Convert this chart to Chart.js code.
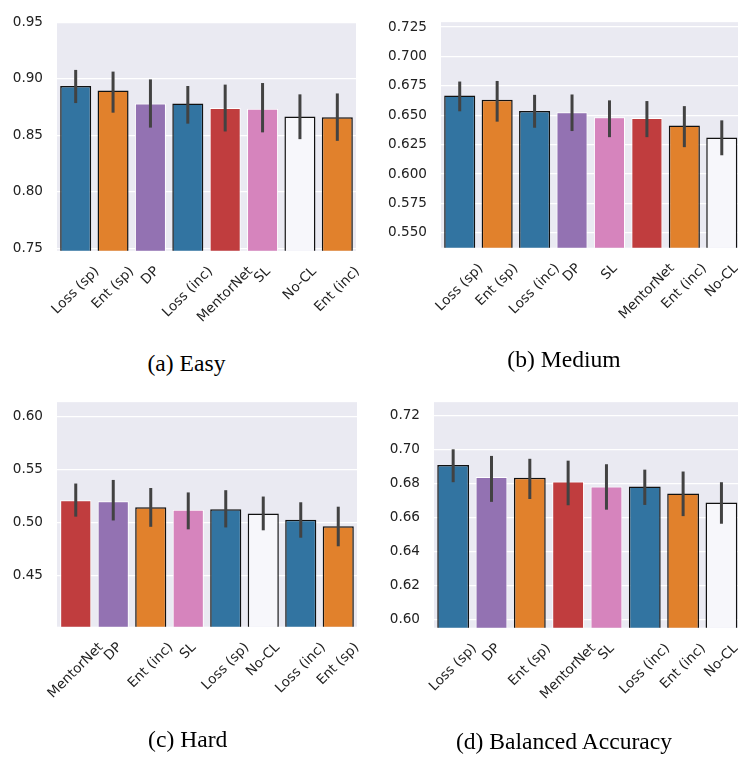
<!DOCTYPE html>
<html>
<head>
<meta charset="utf-8">
<script src="https://cdn.jsdelivr.net/npm/chart.js@4.4.0/dist/chart.umd.min.js"></script>
<style>
  html, body { margin: 0; padding: 0; background: #fff; overflow: hidden; }
  body { width: 738px; height: 757px; position: relative; }
  .panel { position: absolute; }
  .caption {
    position: absolute; width: 370px; text-align: center;
    font-family: "Liberation Serif", "Times New Roman", serif;
    font-size: 23.6px; line-height: 30px; color: #000; white-space: nowrap;
  }
</style>
</head>
<body>
<div class="panel" id="pa" style="left:0px;top:0px;width:370px;height:345px"><canvas id="cA"></canvas></div>
<div class="panel" id="pb" style="left:370px;top:0px;width:372px;height:345px"><canvas id="cB"></canvas></div>
<div class="panel" id="pc" style="left:0px;top:380px;width:370px;height:345px"><canvas id="cC"></canvas></div>
<div class="panel" id="pd" style="left:370px;top:380px;width:372px;height:345px"><canvas id="cD"></canvas></div>

<div class="caption" style="left:1.5px;top:348px">(a) Easy</div>
<div class="caption" style="left:379px;top:344px">(b) Medium</div>
<div class="caption" style="left:2.7px;top:724px">(c) Hard</div>
<div class="caption" style="left:379px;top:726px">(d) Balanced Accuracy</div>

<script>
// ---- data ----
const easyLabels = ['Loss (sp)', 'Ent (sp)', 'DP', 'Loss (inc)', 'MentorNet', 'SL', 'No-CL', 'Ent (inc)'];
const easyMean = [0.8936, 0.8897, 0.8781, 0.8780, 0.8741, 0.8735, 0.8667, 0.8660];
const easyLow  = [0.8785, 0.8700, 0.8568, 0.8603, 0.8534, 0.8526, 0.8466, 0.8451];
const easyHigh = [0.9078, 0.9063, 0.8994, 0.8936, 0.8948, 0.8962, 0.8862, 0.8870];
const easyTicks = [0.75, 0.80, 0.85, 0.90, 0.95];

const mediumLabels = ['Loss (sp)', 'Ent (sp)', 'Loss (inc)', 'DP', 'SL', 'MentorNet', 'Ent (inc)', 'No-CL'];
const mediumMean = [0.6667, 0.6632, 0.6536, 0.6525, 0.6483, 0.6475, 0.6412, 0.6310];
const mediumLow  = [0.6533, 0.6445, 0.6393, 0.6365, 0.6313, 0.6313, 0.6228, 0.6159];
const mediumHigh = [0.6786, 0.6791, 0.6673, 0.6676, 0.6626, 0.6620, 0.6577, 0.6456];
const mediumTicks = [0.550, 0.575, 0.600, 0.625, 0.650, 0.675, 0.700, 0.725];

const hardLabels = ['MentorNet', 'DP', 'Ent (inc)', 'SL', 'Loss (sp)', 'No-CL', 'Loss (inc)', 'Ent (sp)'];
const hardMean = [0.5211, 0.5202, 0.5145, 0.5123, 0.5127, 0.5087, 0.5027, 0.4967];
const hardLow  = [0.5057, 0.5021, 0.4961, 0.4937, 0.4955, 0.4928, 0.4858, 0.4777];
const hardHigh = [0.5370, 0.5404, 0.5328, 0.5286, 0.5307, 0.5247, 0.5193, 0.5151];
const hardTicks = [0.45, 0.50, 0.55, 0.60];

const balLabels = ['Loss (sp)', 'DP', 'Ent (sp)', 'MentorNet', 'SL', 'Loss (inc)', 'Ent (inc)', 'No-CL'];
const balMean = [0.6909, 0.6838, 0.6834, 0.6812, 0.6782, 0.6782, 0.6741, 0.6688];
const balLow  = [0.6808, 0.6692, 0.6709, 0.6672, 0.6646, 0.6674, 0.6608, 0.6563];
const balHigh = [0.7002, 0.6963, 0.6946, 0.6935, 0.6914, 0.6882, 0.6871, 0.6808];
const balTicks = [0.60, 0.62, 0.64, 0.66, 0.68, 0.70, 0.72];

// ---- style ----
const methodColor = {
  'Loss (sp)': '#3274a1', 'Loss (inc)': '#3274a1',
  'Ent (sp)': '#e1812c', 'Ent (inc)': '#e1812c',
  'DP': '#9372b2', 'MentorNet': '#c03d3e', 'SL': '#d684bd', 'No-CL': '#f7f7fb'
};
const whiteEdge = ['DP', 'MentorNet', 'SL'];
const TEXT = '#222222';
const FONT = "'DejaVu Sans', sans-serif";
const FS = 13.6;

// axis background
const bgPlugin = {
  id: 'bg',
  beforeDraw(chart) {
    const a = chart.chartArea, c = chart.ctx;
    c.save();
    c.fillStyle = '#eaeaf2';
    c.fillRect(a.left, a.top, a.right - a.left, a.bottom - a.top);
    c.restore();
  }
};

// error bars from the y scale
const errPlugin = {
  id: 'errbars',
  afterDatasetsDraw(chart, args, opts) {
    const c = chart.ctx, y = chart.scales.y;
    const meta = chart.getDatasetMeta(0);
    c.save();
    c.strokeStyle = '#424242';
    c.lineWidth = 3;
    c.lineCap = 'butt';
    meta.data.forEach((bar, i) => {
      c.beginPath();
      c.moveTo(bar.x, y.getPixelForValue(opts.low[i]));
      c.lineTo(bar.x, y.getPixelForValue(opts.high[i]));
      c.stroke();
    });
    c.restore();
  }
};

// rotated category labels, bbox centred under the tick (matplotlib style)
const xLabelPlugin = {
  id: 'xlabels',
  afterDraw(chart) {
    const c = chart.ctx, x = chart.scales.x;
    const top = chart.chartArea.bottom + 13;
    const h = FS * 1.16;
    c.save();
    c.font = FS + 'px ' + FONT;
    c.fillStyle = TEXT;
    c.textAlign = 'center';
    c.textBaseline = 'middle';
    chart.data.labels.forEach((lab, i) => {
      const w = c.measureText(lab).width;
      const half = (w + h) * Math.SQRT1_2 / 2;
      c.save();
      c.translate(x.getPixelForTick(i), top + half);
      c.rotate(-Math.PI / 4);
      c.fillText(lab, 0, 0);
      c.restore();
    });
    c.restore();
  }
};

function makePanel(id, labels, mean, low, high, ticks, yMin, yMax, digits, geo) {
  new Chart(document.getElementById(id), {
    type: 'bar',
    data: {
      labels: labels,
      datasets: [{
        data: mean,
        backgroundColor: labels.map(l => methodColor[l]),
        borderColor: labels.map(l => whiteEdge.includes(l) ? '#ffffff' : '#111111'),
        borderWidth: labels.map(l => whiteEdge.includes(l) ? 1 : 1.5),
        barPercentage: 0.83,
        categoryPercentage: 1.0
      }]
    },
    options: {
      responsive: true,
      maintainAspectRatio: false,
      animation: false,
      devicePixelRatio: 1,
      layout: { padding: { top: geo.top, right: geo.right, left: 0, bottom: 0 } },
      plugins: {
        legend: { display: false },
        tooltip: { enabled: false },
        errbars: { low: low, high: high }
      },
      scales: {
        x: {
          grid: { display: false, drawTicks: false },
          border: { display: false },
          ticks: { display: false },
          afterFit(s) { s.height = geo.bottom; }
        },
        y: {
          min: yMin,
          max: yMax,
          afterBuildTicks(s) { s.ticks = ticks.map(v => ({ value: v })); },
          afterFit(s) { s.width = geo.left; },
          grid: { color: '#ffffff', lineWidth: 1.3, drawTicks: false },
          border: { display: false },
          ticks: {
            padding: 14,
            color: TEXT,
            font: { family: FONT, size: FS },
            callback: v => Number(v).toFixed(digits)
          }
        }
      }
    },
    plugins: [bgPlugin, errPlugin, xLabelPlugin]
  });
}

makePanel('cA', easyLabels, easyMean, easyLow, easyHigh, easyTicks, 0.748, 0.95, 2,
  { left: 57, top: 17, right: 14, bottom: 94.3 });
makePanel('cB', mediumLabels, mediumMean, mediumLow, mediumHigh, mediumTicks, 0.5373, 0.7291, 3,
  { left: 71, top: 15.7, right: 1.5, bottom: 97.3 });
makePanel('cC', hardLabels, hardMean, hardLow, hardHigh, hardTicks, 0.4017, 0.6139, 2,
  { left: 57, top: 12.3, right: 13, bottom: 98.3 });
makePanel('cD', balLabels, balMean, balLow, balHigh, balTicks, 0.595, 0.728, 2,
  { left: 64, top: 10, right: 1.4, bottom: 97.3 });
</script>
</body>
</html>
